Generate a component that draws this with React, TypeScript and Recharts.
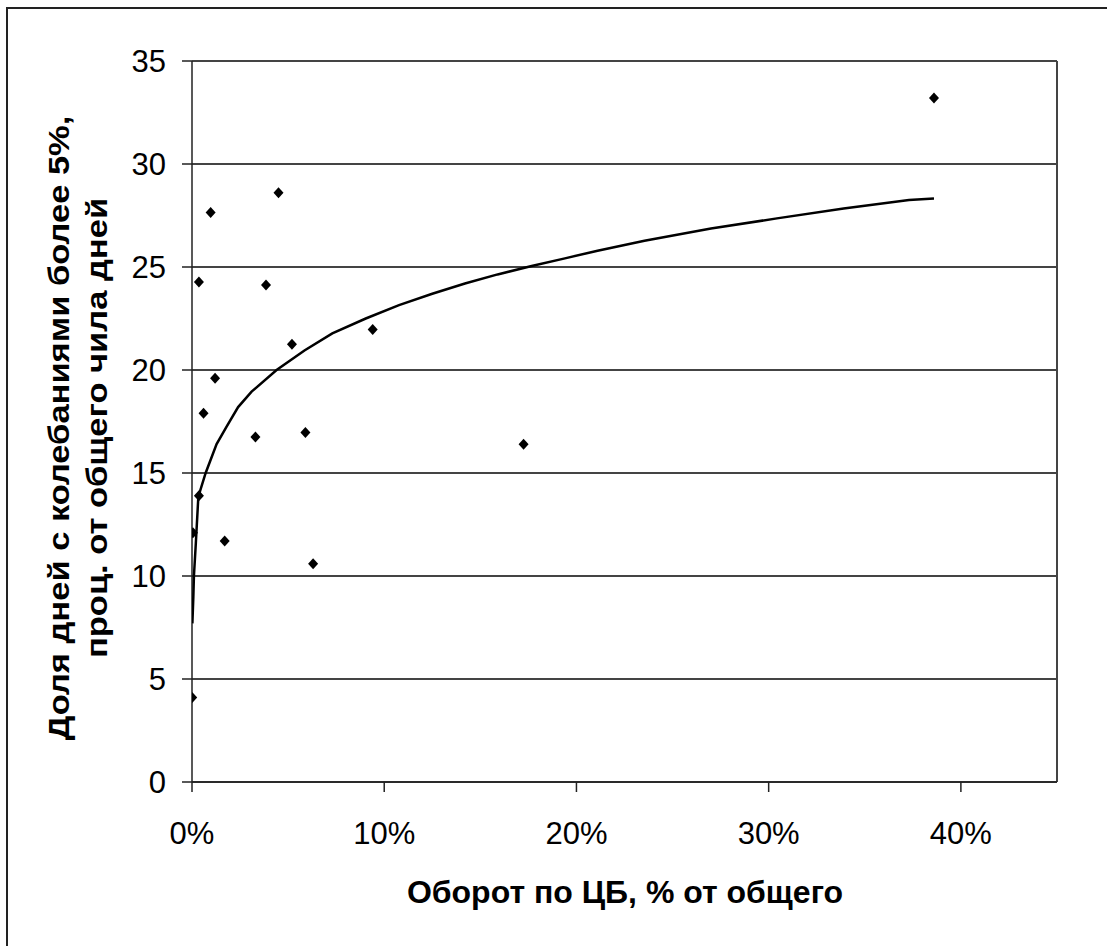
import { ScatterChart, Scatter, XAxis, YAxis, CartesianGrid, ReferenceLine, Label } from "recharts";

// turnover share (fraction of total) and share of days with >5% swings
const turnover = [0.0001, 0.0005, 0.0036, 0.006, 0.017, 0.033, 0.059, 0.063, 0.012, 0.0036, 0.0097, 0.045, 0.0385, 0.052, 0.094, 0.1725, 0.386];
const shareDays = [4.1, 12.1, 13.9, 17.9, 11.7, 16.75, 16.97, 10.6, 19.6, 24.27, 27.64, 28.6, 24.13, 21.25, 21.97, 16.4, 33.2];

// trendline
const trendX = [0.0002, 0.0007, 0.001, 0.002, 0.0033, 0.0071, 0.0128, 0.018, 0.024, 0.031, 0.044, 0.0585, 0.073, 0.0904, 0.1077, 0.125, 0.142, 0.159, 0.1767, 0.194, 0.211, 0.2354, 0.27, 0.3043, 0.339, 0.373, 0.386];
const trendY = [7.7, 9.0, 10.0, 11.6, 13.85, 15.0, 16.4, 17.25, 18.2, 18.95, 20.0, 20.95, 21.78, 22.5, 23.15, 23.7, 24.2, 24.64, 25.05, 25.42, 25.79, 26.27, 26.87, 27.36, 27.84, 28.25, 28.33];

const xTicks = [0, 0.1, 0.2, 0.3, 0.4];
const yTicks = [0, 5, 10, 15, 20, 25, 30, 35];

const points = turnover.map((x, i) => ({ x, y: shareDays[i] }));
const trend = trendX.map((x, i) => ({ x, y: trendY[i] }));

const FONT = "'Liberation Sans', Arial, sans-serif";
const tickStyle = { fill: "#000", fontSize: 31, fontFamily: FONT };

const Diamond = ({ cx, cy }: any) => (
  <polygon points={`${cx},${cy - 5.5} ${cx + 5},${cy} ${cx},${cy + 5.5} ${cx - 5},${cy}`} fill="#000" />
);

// the source picture is a little stretched vertically, so the rotated title is stretched along its length
const YTitle = () => (
  <text transform="translate(69, 428) rotate(-90) scale(1.15, 1)" textAnchor="middle" fontFamily={FONT} fontWeight="bold" fontSize={30} fill="#000">
    <tspan x={0} dy={0}>Доля дней с колебаниями более 5%,</tspan>
    <tspan x={0} dy={38}>проц. от общего чила дней</tspan>
  </text>
);

const XTitle = () => (
  <text x={625} y={903} textAnchor="middle" fontFamily={FONT} fontWeight="bold" fontSize={32} fill="#000">
    Оборот по ЦБ, % от общего
  </text>
);

export default function App() {
  return (
    <div style={{ position: "fixed", left: 0, top: 0, width: 1107, height: 946, overflow: "hidden", background: "#fff" }}>
      <div style={{ position: "absolute", left: 6, top: 7, width: 1200, height: 1100, borderLeft: "2px solid #222", borderTop: "2px solid #222" }} />
      <div style={{ position: "absolute", left: 0, top: 0 }}>
        <ScatterChart width={1107} height={946} margin={{ top: 61, right: 50, bottom: 134, left: 132 }}>
          <CartesianGrid vertical={false} stroke="#444" strokeWidth={2} />
          <XAxis
            type="number"
            dataKey="x"
            domain={[0, 0.45]}
            ticks={xTicks}
            tickFormatter={(v) => `${Math.round(v * 100)}%`}
            tick={tickStyle}
            tickSize={10}
            tickMargin={30}
            stroke="#222"
            strokeWidth={1.5}
            height={30}
            allowDataOverflow
          >
            <Label content={<XTitle />} />
          </XAxis>
          <YAxis
            type="number"
            dataKey="y"
            domain={[0, 35]}
            ticks={yTicks}
            tick={tickStyle}
            tickSize={10}
            tickMargin={16}
            stroke="#222"
            strokeWidth={1.5}
            width={60}
          >
            <Label content={<YTitle />} />
          </YAxis>
          <ReferenceLine x={0.45} stroke="#444" strokeWidth={2} />
          <Scatter data={points} shape={<Diamond />} isAnimationActive={false} />
          <Scatter
            data={trend}
            line={{ stroke: "#000", strokeWidth: 2.5 }}
            lineType="joint"
            shape={() => <g />}
            isAnimationActive={false}
          />
        </ScatterChart>
      </div>
    </div>
  );
}
